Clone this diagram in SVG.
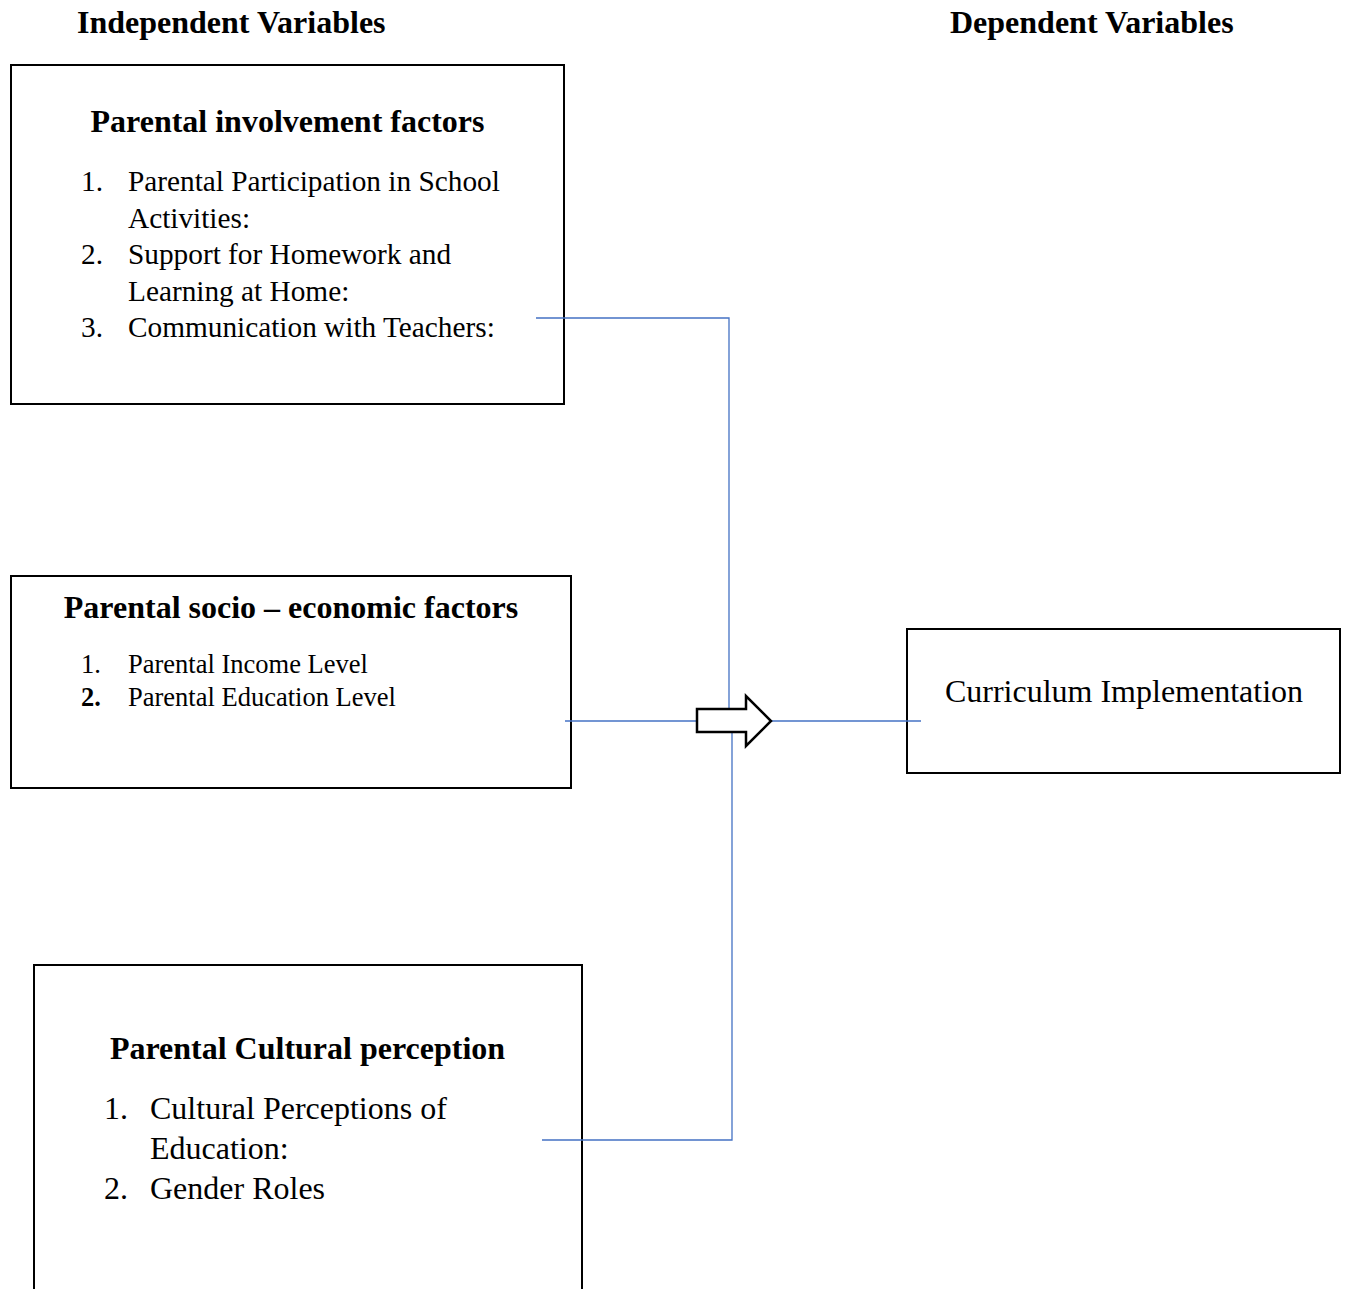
<svg xmlns="http://www.w3.org/2000/svg" width="1346" height="1289" viewBox="0 0 1346 1289">
<style>
.box{fill:#fff;stroke:#000;stroke-width:2}
.t{font-family:"Liberation Serif","Times New Roman",serif;fill:#000}
.b{font-weight:bold;font-size:32px}
.s32{font-size:32px}
.s29{font-size:29.3px}
.s26{font-size:26.5px}
.conn{stroke:#4472C4;stroke-width:1.3;fill:none}
</style>
<rect width="1346" height="1289" fill="#fff"/>
<g id="headers">
<text class="t b" x="77" y="33">Independent Variables</text>
<text class="t b" x="950" y="33">Dependent Variables</text>
</g>
<g id="node-involvement">
<rect class="box" x="11" y="65" width="553" height="339"/>
<text class="t b" x="287.5" y="132" text-anchor="middle">Parental involvement factors</text>
<text class="t s29" x="81" y="191">1.</text><text class="t s29" x="128" y="191">Parental Participation in School</text>
<text class="t s29" x="128" y="228">Activities:</text>
<text class="t s29" x="81" y="264">2.</text><text class="t s29" x="128" y="264">Support for Homework and</text>
<text class="t s29" x="128" y="301">Learning at Home:</text>
<text class="t s29" x="81" y="337">3.</text><text class="t s29" x="128" y="337">Communication with Teachers:</text>
</g>
<g id="node-socio">
<rect class="box" x="11" y="576" width="560" height="212"/>
<text class="t b" x="291" y="618" text-anchor="middle">Parental socio – economic factors</text>
<text class="t s26" x="81" y="673">1.</text><text class="t s26" x="128" y="673">Parental Income Level</text>
<text class="t s26" x="81" y="706" font-weight="bold">2.</text><text class="t s26" x="128" y="706">Parental Education Level</text>
</g>
<g id="node-cultural">
<rect class="box" x="34" y="965" width="548" height="340"/>
<text class="t b" x="307.5" y="1059" text-anchor="middle">Parental Cultural perception</text>
<text class="t s32" x="104" y="1119">1.</text><text class="t s32" x="150" y="1119">Cultural Perceptions of</text>
<text class="t s32" x="150" y="1159">Education:</text>
<text class="t s32" x="104" y="1199">2.</text><text class="t s32" x="150" y="1199">Gender Roles</text>
</g>
<g id="node-curriculum">
<rect class="box" x="907" y="629" width="433" height="144"/>
<text class="t s32" x="1124" y="702" text-anchor="middle">Curriculum Implementation</text>
</g>
<g id="connectors">
<polyline class="conn" points="536,318 729,318 729,712"/>
<polyline class="conn" points="542,1140 732,1140 732,730"/>
<line class="conn" x1="565" y1="721" x2="698" y2="721"/>
<line class="conn" x1="770" y1="721" x2="921" y2="721"/>
<polygon points="697,709 746,709 746,696 771,721 746,746 746,732 697,732" fill="#fff" stroke="#000" stroke-width="2.5"/>
</g>
</svg>
